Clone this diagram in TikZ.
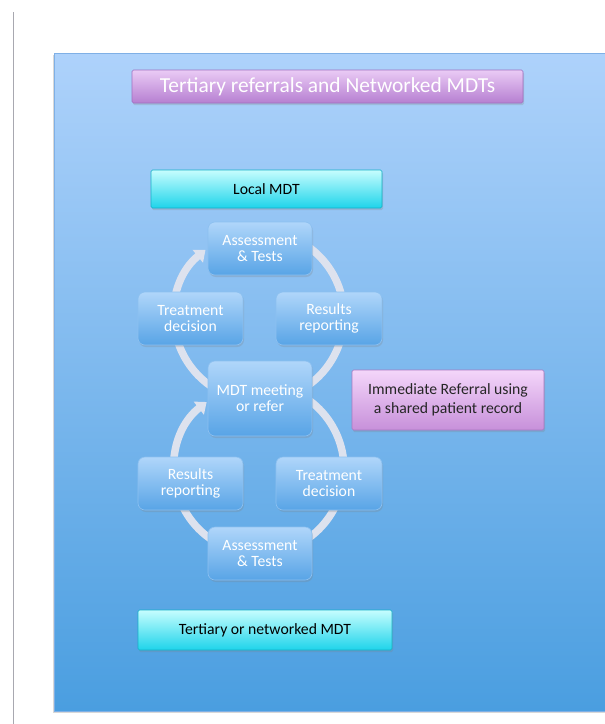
\documentclass[tikz,border=0pt]{standalone}
\usepackage{fontspec}
\setmainfont{Carlito}
\usetikzlibrary{shadows,arrows.meta}
\definecolor{bgtop}{HTML}{AED2FB}
\definecolor{bgbot}{HTML}{4A9EE0}
\definecolor{bgline}{HTML}{7FB0E6}
\definecolor{boxtop}{HTML}{B0D6FA}
\definecolor{boxbot}{HTML}{58A4E6}
\definecolor{boxline}{HTML}{8CC0F0}
\definecolor{ringgray}{HTML}{DDE2EE}
\definecolor{purtop}{HTML}{EACBF5}
\definecolor{purbot}{HTML}{B67FD1}
\definecolor{purline}{HTML}{A070C0}
\definecolor{cyantop}{HTML}{C6FDFE}
\definecolor{cyanbot}{HTML}{1ED4EA}
\definecolor{cyanline}{HTML}{14B0C8}
\definecolor{liltop}{HTML}{F4D6FA}
\definecolor{lilbot}{HTML}{C790DA}
\definecolor{lilline}{HTML}{A878C0}
\definecolor{sidegray}{HTML}{A8A8B0}
\begin{document}
\begin{tikzpicture}[x=1pt,y=1pt,
  shad/.style={drop shadow={opacity=0.25,shadow xshift=1pt,shadow yshift=-2pt}},
  cyc/.style={shad,rounded corners=7pt,minimum width=104pt,minimum height=53pt,
    top color=boxtop,bottom color=boxbot,draw=boxline,line width=0.6pt,
    text=white,align=center,inner sep=2pt,font=\fontsize{15.7}{16}\selectfont},
  bar/.style={shad,rounded corners=1.5pt,line width=0.6pt,align=center,inner sep=2pt,
    font=\fontsize{15.7}{19.5}\selectfont},
  ring/.style={draw=ringgray,line width=7.5pt},
  ringtip/.style={-{Triangle[width=16pt,length=10pt]}}
]
\useasboundingbox (0,0) rectangle (605,-724);
\fill[white] (0,0) rectangle (605,-724);
\draw[sidegray,line width=1pt] (13,-12) -- (13,-724);
% background panel
\path[drop shadow={opacity=0.3,shadow xshift=-1.5pt,shadow yshift=-2pt},
  top color=bgtop,bottom color=bgbot,draw=bgline,line width=0.8pt]
  (54,-53) rectangle (606,-711);
% rings
\coordinate (cu) at (259,-316);
\coordinate (cl) at (259,-469);
\draw[ring,ringtip] (cu) ++(125:85) arc[start angle=125,end angle=-231,radius=85];
\draw[ring,ringtip] (cl) ++(123:85) arc[start angle=123,end angle=-232,radius=85];
% title and bars
\node[bar,minimum width=391pt,minimum height=33pt,top color=purtop,bottom color=purbot,
  draw=purline,text=white,font=\fontsize{21.4}{24}\selectfont] (title) at (327.5,-86.5)
  {Tertiary referrals and Networked MDTs};
\node[bar,minimum width=231pt,minimum height=38pt,top color=cyantop,bottom color=cyanbot,
  draw=cyanline,text=black] (local) at (266.5,-189) {Local MDT};
\node[bar,minimum width=254pt,minimum height=40pt,top color=cyantop,bottom color=cyanbot,
  draw=cyanline,text=black] (tert) at (265,-630) {Tertiary or networked MDT};
\node[bar,minimum width=192pt,minimum height=60pt,top color=liltop,bottom color=lilbot,
  draw=lilline,text=black!85] (imm) at (448,-400) {Immediate Referral using\\a shared patient record};
% cycle boxes
\node[cyc] (at1) at (260,-248.5) {Assessment\\\& Tests};
\node[cyc,minimum width=105pt] (td1) at (190.5,-318.5) {Treatment\\decision};
\node[cyc,minimum width=106pt] (rr1) at (329,-318.5) {Results\\reporting};
\node[cyc,minimum height=75pt] (mdt) at (260,-398.5) {MDT meeting\\or refer};
\node[cyc,minimum width=105pt] (rr2) at (190.5,-483.5) {Results\\reporting};
\node[cyc,minimum width=106pt] (td2) at (329,-483.5) {Treatment\\decision};
\node[cyc] (at2) at (260,-553.5) {Assessment\\\& Tests};
\end{tikzpicture}
\end{document}
